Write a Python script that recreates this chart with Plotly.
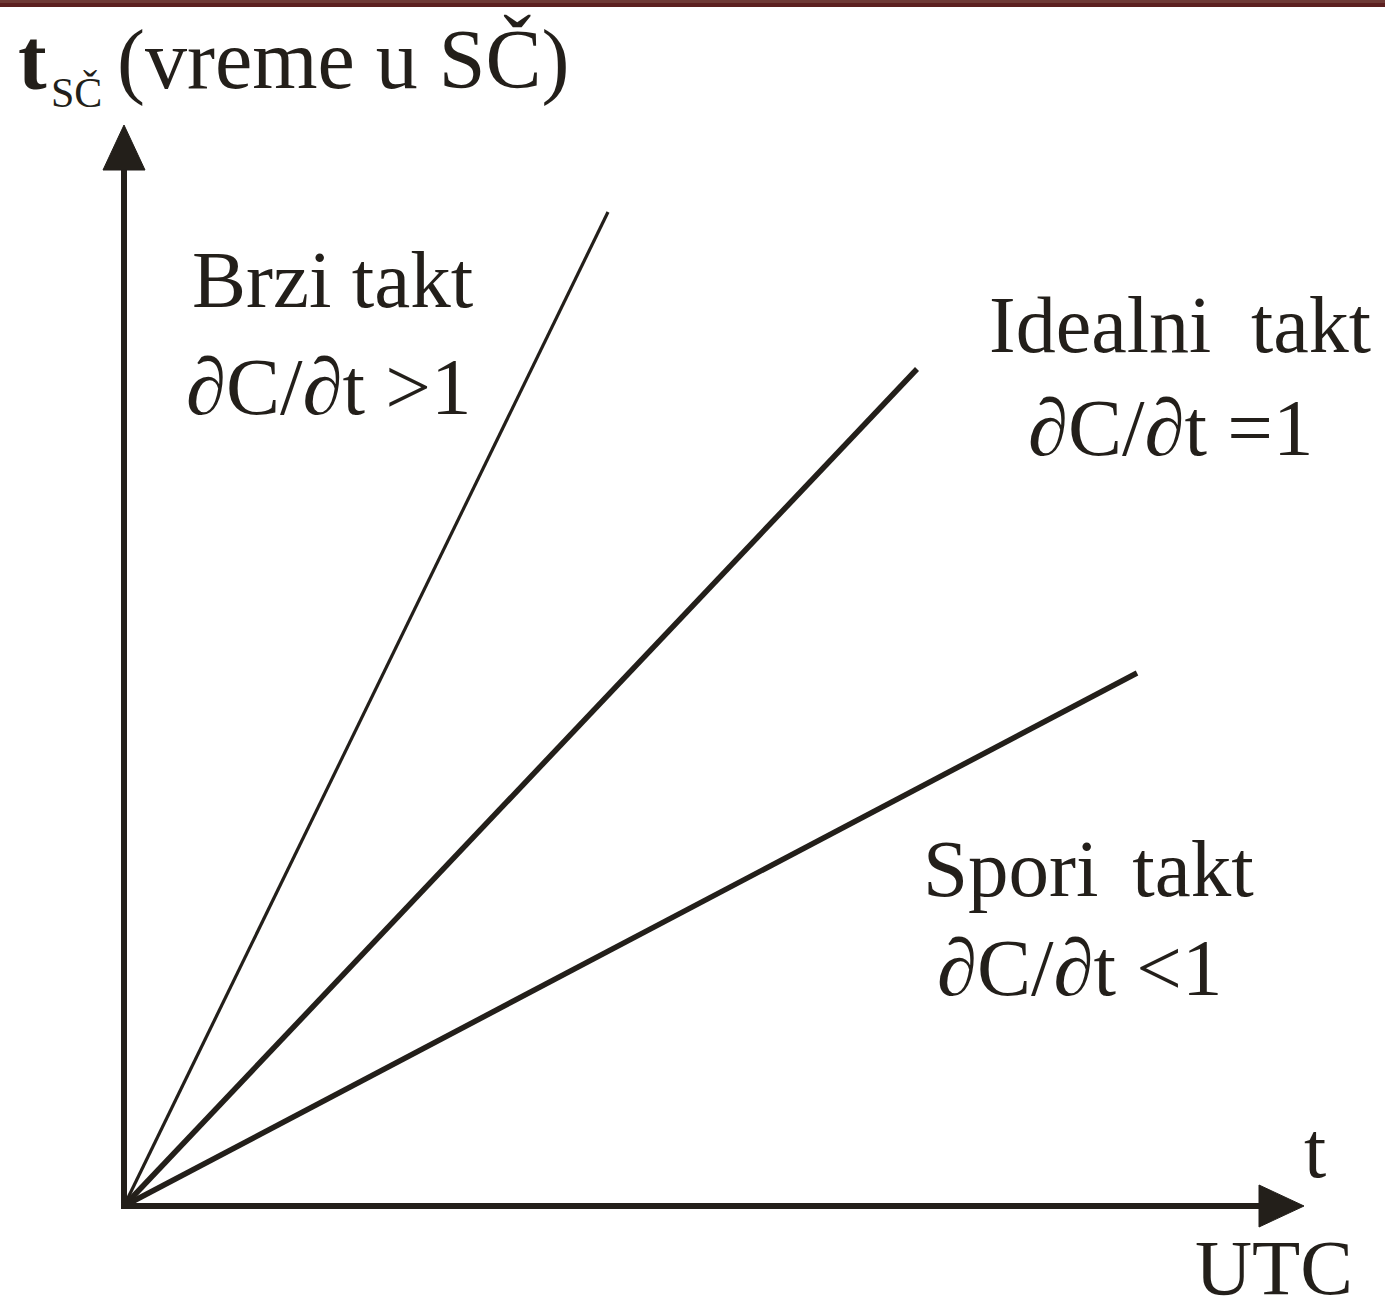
import plotly.graph_objects as go

# Clock behaviour: local clock time t_SČ against UTC, all lines start at the origin
clock_names = ["Brzi takt", "Idealni takt", "Spori takt"]
rate_labels = ["∂C/∂t >1", "∂C/∂t =1", "∂C/∂t <1"]
utc_end = [484, 793, 1013]
tsc_end = [994, 837, 533]

# Axis extents (arrow tips)
x_axis_tip = 1180
y_axis_tip = 1081

INK = "#231f1a"
FONT = "Liberation Serif, Times New Roman, serif"
W, H = 1385, 1313

fig = go.Figure()

line_w = [3.2, 5.5, 5.5]
for name, xe, ye, lw in zip(clock_names, utc_end, tsc_end, line_w):
    fig.add_trace(go.Scatter(x=[0, xe], y=[0, ye], mode="lines",
                             line=dict(color=INK, width=lw), name=name,
                             hoverinfo="skip"))

# Axes with arrow heads
ah_len, ah_half = 45, 21
fig.add_trace(go.Scatter(x=[0, 0], y=[0, y_axis_tip - ah_len + 2], mode="lines",
                         line=dict(color=INK, width=6), hoverinfo="skip"))
fig.add_trace(go.Scatter(x=[-3, x_axis_tip - ah_len + 2], y=[0, 0], mode="lines",
                         line=dict(color=INK, width=6), hoverinfo="skip"))
fig.add_trace(go.Scatter(x=[-ah_half, ah_half, 0, -ah_half],
                         y=[y_axis_tip - ah_len, y_axis_tip - ah_len, y_axis_tip, y_axis_tip - ah_len],
                         mode="lines", fill="toself", fillcolor=INK,
                         line=dict(color=INK, width=1), hoverinfo="skip"))
fig.add_trace(go.Scatter(x=[x_axis_tip - ah_len, x_axis_tip - ah_len, x_axis_tip, x_axis_tip - ah_len],
                         y=[-ah_half, ah_half, 0, -ah_half],
                         mode="lines", fill="toself", fillcolor=INK,
                         line=dict(color=INK, width=1), hoverinfo="skip"))

NB = "\u00a0"
texts = [
    ("Brzi takt", 66, 926, 81),
    (rate_labels[0], 60, 819, 81),
    ("Idealni" + NB + NB + "takt", 863, 881, 80),
    (rate_labels[1], 902, 778, 81),
    ("Spori" + NB + "\u2006" + "takt", 797, 337, 81),
    (rate_labels[2], 811, 238, 81),
    ("t", 1178, 56, 80),
    ("(vreme u SČ)", -9, 1146, 84),
    ("<b>t</b>", -108, 1146, 86),
]
annotations = []
for txt, x, y, size in texts:
    annotations.append(dict(text=txt, x=x, y=y, xref="x", yref="y",
                            xanchor="left", yanchor="middle", showarrow=False,
                            font=dict(family=FONT, size=size, color=INK)))
# Lower axis name sits against the bottom edge
annotations.append(dict(text="UTC", x=1069, y=0, xref="x", yref="paper",
                        xanchor="left", yanchor="bottom", showarrow=False,
                        font=dict(family=FONT, size=79, color=INK)))
annotations.append(dict(text="SČ", x=-75, y=1113, xref="x", yref="y",
                        xanchor="left", yanchor="middle", showarrow=False,
                        font=dict(family=FONT, size=42, color=INK)))

fig.update_layout(
    width=W, height=H,
    margin=dict(l=0, r=0, t=0, b=0),
    paper_bgcolor="white", plot_bgcolor="white",
    showlegend=False,
    xaxis=dict(range=[-124, 1261], visible=False, fixedrange=True),
    yaxis=dict(range=[-107, 1206], visible=False, fixedrange=True),
    annotations=annotations,
    shapes=[
        dict(type="rect", xref="paper", yref="paper", x0=0, x1=1,
             y0=1 - 7 / H, y1=1, fillcolor="#5c2020", line=dict(width=0), layer="above"),
        dict(type="rect", xref="paper", yref="paper", x0=0, x1=1,
             y0=1 - 3 / H, y1=1, fillcolor="#6e3a36", line=dict(width=0), layer="above"),
    ],
)

fig.write_html("out.html")
